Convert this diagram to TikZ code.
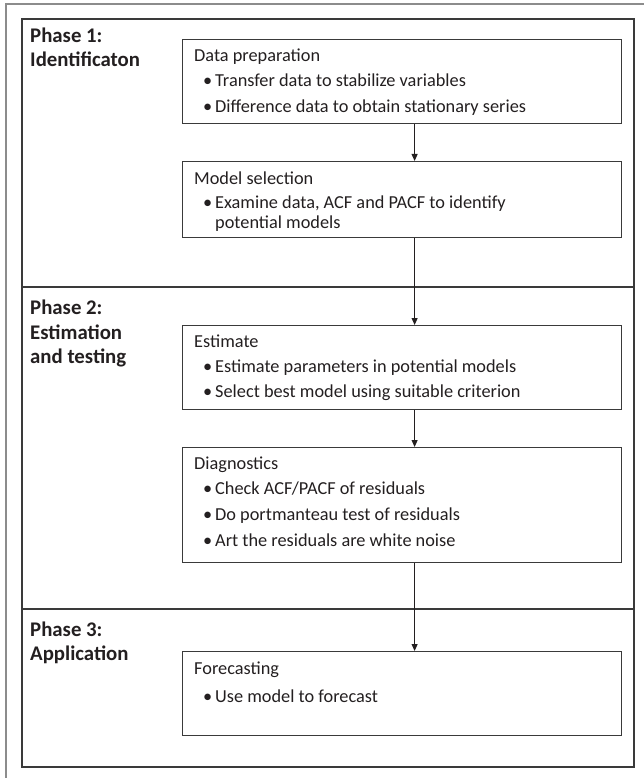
\documentclass[tikz,border=0pt]{standalone}
\usepackage{fontspec}
\setmainfont{Carlito}
\usetikzlibrary{arrows.meta}
\definecolor{txt}{HTML}{231F20}
\definecolor{frameline}{HTML}{3A3A3A}
\definecolor{outerline}{HTML}{8C8C8C}
\tikzset{
  stagebox/.style={draw=frameline, line width=1.2pt, anchor=north west, minimum width=439pt, inner sep=0pt, fill=none},
  body/.style={anchor=base west, inner sep=0pt, text=txt, font=\fontsize{18.3}{22}\selectfont},
  bul/.style={anchor=base west, inner sep=0pt, text=txt, font=\fontsize{18.3}{22}\selectfont},
  phase/.style={anchor=base west, inner sep=0pt, text=txt, font=\fontsize{20.8}{24}\selectfont\bfseries},
  flow/.style={draw=txt, line width=1pt, -{Triangle[length=7pt,width=6pt]}},
}
\begin{document}
\begin{tikzpicture}[x=1pt,y=-1pt]
\useasboundingbox (0,0) rectangle (644,778);
% outer frame (only top and left visible)
\draw[outerline, line width=1.2pt] (6,778) -- (6,4) -- (644,4);
% inner frame and dividers
\draw[frameline, line width=1.4pt] (22,19) rectangle (634,767);
\draw[frameline, line width=1.4pt] (22,287) -- (634,287);
\draw[frameline, line width=1.4pt] (22,609) -- (634,609);
% phase labels
\node[phase] (p1a) at (30,43) {Phase 1:};
\node[phase] (p1b) at (30,67) {Identificaton};
\node[phase] (p2a) at (30,314) {Phase 2:};
\node[phase] (p2b) at (30,339) {Estimation};
\node[phase] (p2c) at (30,363) {and testing};
\node[phase] (p3a) at (30,636) {Phase 3:};
\node[phase] (p3b) at (30,660) {Application};
% boxes
\node[stagebox, minimum height=84pt] (b1) at (182,39) {};
\node[stagebox, minimum height=76pt] (b2) at (182,161) {};
\node[stagebox, minimum height=84pt] (b3) at (182,325) {};
\node[stagebox, minimum height=115pt] (b4) at (182,447) {};
\node[stagebox, minimum height=84pt] (b5) at (182,651) {};
% box 1
\node[body] (t1) at (194,62) {Data preparation};
\node[bul] (t1a) at (203,87) {•};
\node[body] (t1b) at (215,87) {Transfer data to stabilize variables};
\node[bul] (t1c) at (203,113) {•};
\node[body] (t1d) at (215,113) {Difference data to obtain stationary series};
% box 2
\node[body] (t2) at (194,184) {Model selection};
\node[bul] (t2a) at (203,208) {•};
\node[body] (t2b) at (215,208) {Examine data, ACF and PACF to identify};
\node[body] (t2c) at (215,228) {potential models};
% box 3
\node[body] (t3) at (194,347) {Estimate};
\node[bul] (t3a) at (203,372) {•};
\node[body] (t3b) at (215,372) {Estimate parameters in potential models};
\node[bul] (t3c) at (203,397) {•};
\node[body] (t3d) at (215,397) {Select best model using suitable criterion};
% box 4
\node[body] (t4) at (194,469) {Diagnostics};
\node[bul] (t4a) at (203,494) {•};
\node[body] (t4b) at (215,494) {Check ACF/PACF of residuals};
\node[bul] (t4c) at (203,520) {•};
\node[body] (t4d) at (215,520) {Do portmanteau test of residuals};
\node[bul] (t4e) at (203,546) {•};
\node[body] (t4f) at (215,546) {Art the residuals are white noise};
% box 5
\node[body] (t5) at (194,674) {Forecasting};
\node[bul] (t5a) at (203,702) {•};
\node[body] (t5b) at (215,702) {Use model to forecast};
% connectors
\draw[flow] ([xshift=12.5pt]b1.south) -- ([xshift=12.5pt]b2.north);
\draw[flow] ([xshift=12.5pt]b2.south) -- ([xshift=12.5pt]b3.north);
\draw[flow] ([xshift=12.5pt]b3.south) -- ([xshift=12.5pt]b4.north);
\draw[flow] ([xshift=12.5pt]b4.south) -- ([xshift=12.5pt]b5.north);
\end{tikzpicture}
\end{document}
